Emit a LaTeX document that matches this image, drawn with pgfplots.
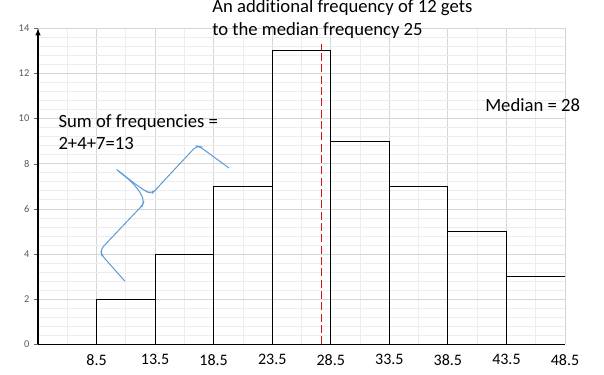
\documentclass[border=0pt]{standalone}
\usepackage{fontspec}
\setmainfont[Ligatures={NoCommon}]{Carlito}
\usepackage{pgfplots}
\pgfplotsset{compat=1.18}
\definecolor{curveblue}{RGB}{91,155,213}
\definecolor{medred}{RGB}{215,20,20}
\begin{document}
\begin{tikzpicture}
\begin{axis}[
  at={(28.5pt,23pt)}, anchor=south west, scale only axis,
  width=395.25pt, height=237pt,
  xmin=3.5, xmax=48.5, ymin=0, ymax=14,
  axis x line=bottom, axis y line=left,
  x axis line style={-, black, line width=0.8pt},
  y axis line style={-latex, black, line width=0.8pt},
  xtick={3.5,8.5,...,48.5},
  xticklabels={,8.5,13.5,18.5,23.5,28.5,33.5,38.5,43.5,48.5},
  ytick={0,2,...,14},
  minor x tick num=1, minor y tick num=4,
  grid=both,
  major grid style={black!16, line width=0.6pt},
  minor grid style={black!7, line width=0.6pt},
  xtick style={draw=none},
  ytick style={draw=black!60},
  minor tick length=0pt, major tick length=3pt, tick align=outside,
  /pgf/number format/assume math mode=true,
  yticklabel style={font=\fontsize{7.8}{9}\selectfont, text=black!65},
  xticklabel style={font=\fontsize{12}{14}\selectfont, text=black, yshift=-1pt},
]
\addplot[const plot, black, line width=0.8pt, mark=none] coordinates
  {(8.5,2) (13.5,4) (18.5,7) (23.5,13) (28.5,9) (33.5,7) (38.5,5) (43.5,3) (48.5,3)};
\addplot[ycomb, black, line width=0.8pt, mark=none] coordinates
  {(8.5,2) (13.5,4) (18.5,7) (23.5,13) (28.5,13) (33.5,9) (38.5,7) (43.5,5)};
\addplot[medred, dash pattern=on 6pt off 2.5pt, line width=0.75pt, mark=none] coordinates
  {(27.75,0) (27.75,13.3)};
\addplot[curveblue, line width=0.75pt, rounded corners=3pt, mark=none] coordinates
  {(10.21,7.75) (11.49,7.20) (12.20,6.76) (12.56,6.35) (12.43,6.17) (8.85,4.21) (8.93,3.96) (10.92,2.80)};
\addplot[curveblue, line width=0.75pt, rounded corners=3pt, mark=none] coordinates
  {(10.35,7.69) (11.91,7.06) (12.77,6.76) (13.24,6.69) (13.47,6.81) (17.03,8.79) (17.31,8.76) (19.81,7.81)};
\end{axis}
\begin{scope}[every node/.style={anchor=base west, inner sep=0pt, font=\fontsize{14}{16}\selectfont}]
\node at (159pt,271.7pt) {An additional frequency of 12 gets};
\node at (159pt,254.25pt) {to the median frequency 25};
\node at (43.7pt,185.8pt) {Sum of frequencies =};
\node at (43.7pt,168.75pt) {2+4+7=13};
\node at (363.75pt,197.25pt) {Median = 28};
\end{scope}
\pgfresetboundingbox
\path (0,0) rectangle (453pt,281.25pt);
\end{tikzpicture}
\end{document}
